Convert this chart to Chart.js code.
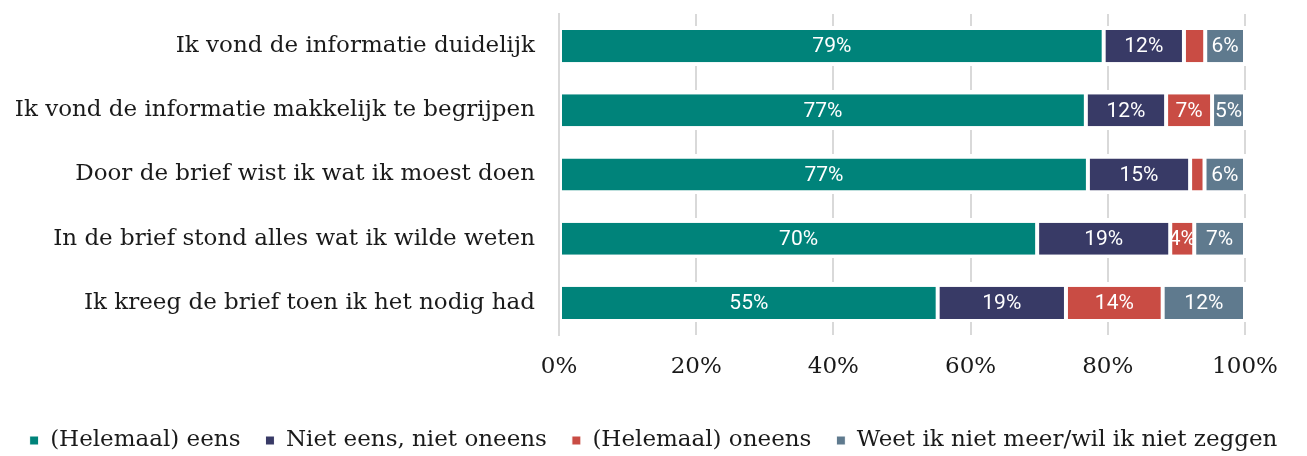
<!DOCTYPE html>
<html>
<head>
<meta charset="utf-8">
<script src="https://cdn.jsdelivr.net/npm/chart.js@4.4.1/dist/chart.umd.min.js"></script>
<style>
  html, body { margin: 0; padding: 0; background: #fff; }
  #wrap { width: 1307px; height: 456px; }
</style>
</head>
<body>
<div id="wrap"><canvas id="chart" width="1307" height="456"></canvas></div>
<script>
// categories (top to bottom)
const categories = [
  'Ik vond de informatie duidelijk',
  'Ik vond de informatie makkelijk te begrijpen',
  'Door de brief wist ik wat ik moest doen',
  'In de brief stond alles wat ik wilde weten',
  'Ik kreeg de brief toen ik het nodig had'
];
const seriesNames = ['(Helemaal) eens', 'Niet eens, niet oneens', '(Helemaal) oneens', 'Weet ik niet meer/wil ik niet zeggen'];

// percentages
const eens     = [79.4, 76.8, 77.1, 69.7, 55.2];
const neutraal = [11.7, 11.7, 14.9, 19.4, 18.7];
const oneens   = [3.1, 6.7, 2.1, 3.5, 14.1];
const weetNiet = [5.8, 4.8, 5.9, 7.4, 12.0];

const xTicks = [0, 20, 40, 60, 80, 100];
const colors = ['#00837a', '#383a66', '#c94c44', '#5f7a8e'];

const serif = 'DejaVu Serif';
const textColor = '#1a1a1a';

// white percentage labels centered in each segment
const segLabels = {
  id: 'segLabels',
  afterDatasetsDraw(chart) {
    const ctx = chart.ctx;
    ctx.save();
    ctx.font = '21px Roboto';
    ctx.fillStyle = '#fff';
    ctx.textAlign = 'center';
    ctx.textBaseline = 'middle';
    chart.data.datasets.forEach((ds, di) => {
      chart.getDatasetMeta(di).data.forEach((bar, i) => {
        const v = ds.data[i];
        if (v < 3.3) return;
        ctx.fillText(Math.round(v) + '%', (bar.x + bar.base) / 2, bar.y + 1);
      });
    });
    ctx.restore();
  }
};

const mk = (label, data, color) => ({
  label, data,
  yAxisID: 'y',
  backgroundColor: color,
  borderColor: '#fff',
  borderWidth: { left: 2, right: 2, top: 0, bottom: 0 },
  borderSkipped: false,
  barPercentage: 0.5,
  categoryPercentage: 1
});

const noPad = s => { s.paddingTop = 0; s.paddingBottom = 0; };

new Chart(document.getElementById('chart'), {
  type: 'bar',
  data: {
    labels: categories,
    datasets: [
      mk(seriesNames[0], eens, colors[0]),
      mk(seriesNames[1], neutraal, colors[1]),
      mk(seriesNames[2], oneens, colors[2]),
      mk(seriesNames[3], weetNiet, colors[3])
    ]
  },
  options: {
    indexAxis: 'y',
    responsive: false,
    animation: false,
    layout: { padding: { top: 14, right: 0, left: 0, bottom: -6 } },
    scales: {
      x: {
        stacked: true, min: 0, max: 100,
        afterBuildTicks: s => { s.ticks = xTicks.map(v => ({ value: v })); },
        afterFit: s => { s.height = 69; },
        ticks: { callback: v => v + '%', font: { family: serif, size: 23 }, color: textColor, padding: 18, maxRotation: 0 },
        grid: { color: '#d9d9d9', lineWidth: 2, drawTicks: false },
        border: { display: false, dash: [24, 40], dashOffset: 12 }
      },
      y: {
        stacked: true,
        afterFit: s => { s.width = 559; noPad(s); },
        ticks: { font: { family: serif, size: 23 }, color: textColor, padding: 24 },
        grid: { display: false, drawTicks: false },
        border: { display: true, color: '#d9d9d9', width: 2 }
      },
      // empty spacer on the right so the plot ends at 100%
      y2: {
        type: 'category', position: 'right',
        afterFit: s => { s.width = 62; noPad(s); },
        ticks: { display: false },
        grid: { display: false, drawTicks: false },
        border: { display: false }
      }
    },
    plugins: {
      legend: {
        position: 'bottom',
        labels: {
          font: { family: serif, size: 23 },
          color: textColor,
          boxWidth: 9, boxHeight: 9,
          padding: 25
        }
      },
      tooltip: { enabled: false }
    }
  },
  plugins: [segLabels]
});
</script>
</body>
</html>
